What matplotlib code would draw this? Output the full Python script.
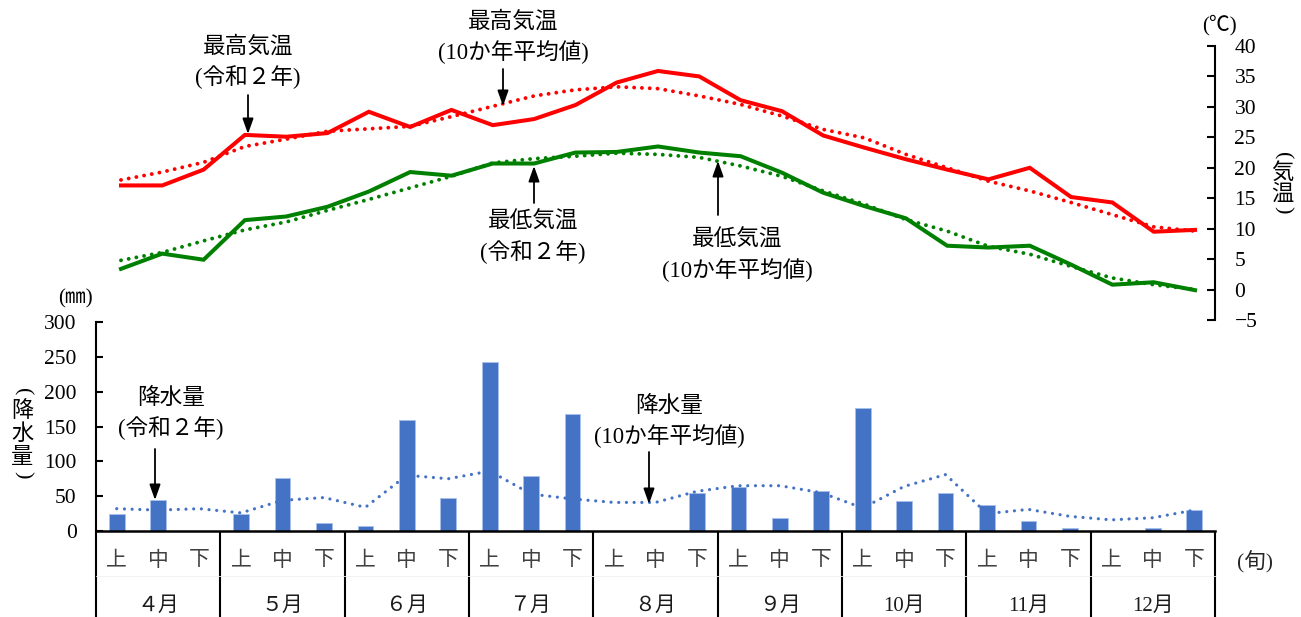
import matplotlib
matplotlib.use('Agg')
import matplotlib.pyplot as plt
import numpy as np

plt.rcParams['font.family'] = ['Liberation Serif', 'Noto Sans CJK JP']
plt.rcParams['axes.unicode_minus'] = True

# ---------------- data ----------------
months = ['４月', '５月', '６月', '７月', '８月', '９月', '10月', '11月', '12月']
dekads = ['上', '中', '下']

max_2020 = [17.1, 17.1, 19.7, 25.4, 25.1, 25.7, 29.2, 26.7, 29.5, 27.0, 28.0, 30.3, 34.0, 35.9,
            35.0, 31.1, 29.3, 25.3, 23.3, 21.4, 19.7, 18.1, 20.0, 15.2, 14.3, 9.5, 9.8]
max_avg = [18.0, 19.3, 20.9, 23.5, 24.7, 26.0, 26.4, 26.8, 28.4, 30.1, 31.8, 32.8, 33.3, 33.0,
           31.8, 30.4, 28.5, 26.3, 24.9, 22.2, 20.0, 17.8, 16.2, 14.3, 12.3, 10.3, 9.6]
min_2020 = [3.4, 5.9, 4.9, 11.4, 12.0, 13.6, 16.1, 19.3, 18.7, 20.7, 20.7, 22.5, 22.6, 23.5,
            22.5, 21.9, 19.2, 15.9, 13.7, 11.7, 7.2, 6.9, 7.2, 4.1, 0.8, 1.2, -0.1]
min_avg = [4.8, 6.1, 8.0, 9.8, 11.1, 13.0, 14.8, 16.7, 18.6, 20.8, 21.5, 21.9, 22.4, 22.2,
           21.7, 20.3, 18.6, 16.2, 14.0, 11.5, 9.6, 7.1, 5.8, 3.8, 1.9, 0.8, 0.0]
rain_2020 = [24, 44, 0, 24, 76, 12, 7, 160, 48, 243, 79, 168, 0, 0,
             54, 63, 18, 57, 176, 43, 54, 38, 15, 4, 0, 4, 30]
rain_avg = [32, 30, 32, 26, 44, 48, 34, 80, 75, 86, 53, 46, 41, 41,
            57, 65, 65, 55, 33, 64, 81, 25, 31, 21, 16, 19, 30]

temp_ticks = [-5, 0, 5, 10, 15, 20, 25, 30, 35, 40]
rain_ticks = [0, 50, 100, 150, 200, 250, 300]

# ---------------- layout helpers ----------------
W, H = 1301, 617
fig = plt.figure(figsize=(W / 100, H / 100), dpi=100)


def fx(x):
    return x / W


def fy(y):
    return 1 - y / H


L, R = 96, 1215
ax_t = fig.add_axes([fx(L), fy(320), fx(R) - fx(L), fy(46) - fy(320)])
ax_b = fig.add_axes([fx(L), fy(531), fx(R) - fx(L), fy(322) - fy(531)])
for a in (ax_t, ax_b):
    a.patch.set_alpha(0)

n = len(max_2020)
x = np.arange(n)

RED = '#FF0000'
GREEN = '#008000'
BLUE = '#4472C4'

# ---------------- top: temperature ----------------
ax_t.plot(x, max_avg, color=RED, lw=2.8, linestyle=(0, (0.01, 2.0)), dash_capstyle='round')
ax_t.plot(x, min_avg, color=GREEN, lw=2.8, linestyle=(0, (0.01, 2.0)), dash_capstyle='round')
ax_t.plot(x, max_2020, color=RED, lw=2.9, solid_joinstyle='miter')
ax_t.plot(x, min_2020, color=GREEN, lw=2.9, solid_joinstyle='miter')

ax_t.set_xlim(-0.605, 26.484)
ax_t.set_ylim(-5, 40)
for s in ('left', 'top', 'bottom'):
    ax_t.spines[s].set_visible(False)
ax_t.spines['right'].set_linewidth(1.5)
ax_t.set_xticks([])
ax_t.yaxis.tick_right()
ax_t.set_yticks(temp_ticks)
ax_t.tick_params(axis='y', direction='in', length=6, width=1.5, labelsize=15.5, pad=14)

# ---------------- bottom: precipitation ----------------
ax_b.bar(x, rain_2020, width=0.38, color=BLUE, edgecolor='#A9C1EA', linewidth=0.6, zorder=2)
ax_b.plot(x, rain_avg, color=BLUE, lw=2.3, linestyle=(0, (0.01, 2.4)), dash_capstyle='round', zorder=3)

ax_b.set_xlim(-0.5, n - 0.5)
ax_b.set_ylim(0, 300)
for s in ('right', 'top'):
    ax_b.spines[s].set_visible(False)
ax_b.spines['left'].set_linewidth(1.5)
ax_b.spines['bottom'].set_linewidth(1.8)
ax_b.set_xticks([])
ax_b.set_yticks(rain_ticks)
ax_b.tick_params(axis='y', direction='in', length=5, width=1.5, labelsize=15.5, pad=14)

# category table under the bars
tr = ax_b.get_xaxis_transform()
for m in range(len(months) + 1):
    ax_b.plot([m * 3 - 0.5, m * 3 - 0.5], [0, -0.45], transform=tr, color='black',
              lw=1.5, clip_on=False, solid_capstyle='butt')
ax_b.plot([-0.5, n - 0.5], [-0.215, -0.215], transform=tr, color='#F0F0F0', lw=0.6, clip_on=False)
for i in range(n):
    ax_b.text(i, -0.1435, dekads[i % 3], transform=tr, ha='center', va='center',
              fontsize=15, color='#404040')
for m, lab in enumerate(months):
    ax_b.text(m * 3 + 1, -0.36, lab, transform=tr, ha='center', va='center',
              fontsize=15, color='#1a1a1a')
ax_b.text(27.47, -0.1435, '(旬)', transform=tr, ha='center', va='center', fontsize=15.5,
          color='#262626')

# ---------------- axis titles ----------------
fig.text(fx(1219), fy(25), '(℃)', ha='center', va='center', fontsize=15)
fig.text(fx(75), fy(299), '(㎜)', ha='center', va='center', fontsize=15)


def vertical_label(cx, y0, pitch, chars):
    ys = [y0 + pitch * k for k in range(len(chars) + 2)]
    fig.text(fx(cx), fy(ys[0] + 5), '(', ha='center', va='center', fontsize=16,
             rotation=-90, family='Liberation Serif')
    for k, ch in enumerate(chars):
        fig.text(fx(cx), fy(ys[k + 1]), ch, ha='center', va='center', fontsize=16,
                 family='Noto Sans CJK JP')
    fig.text(fx(cx), fy(ys[-1] - 5), ')', ha='center', va='center', fontsize=16,
             rotation=-90, family='Liberation Serif')


vertical_label(1282, 150.5, 21.5, ['気', '温'])
vertical_label(22, 387, 23.3, ['降', '水', '量'])

# ---------------- annotations ----------------
FS = 16.3


def label(cx, y1, line1, line2):
    fig.text(fx(cx), fy(y1), line1, ha='center', va='center', fontsize=FS)
    fig.text(fx(cx), fy(y1 + 30), line2, ha='center', va='center', fontsize=FS)


def arrow(x0, y_tail, y_tip):
    fig.add_artist(matplotlib.patches.FancyArrowPatch(
        (fx(x0), fy(y_tail)), (fx(x0), fy(y_tip)), transform=fig.transFigure,
        arrowstyle='-|>,head_length=0.62,head_width=0.22', mutation_scale=15,
        color='black', lw=1.3, shrinkA=0, shrinkB=0))


label(248, 47, '最高気温', '(令和２年)')
arrow(248, 95, 134)
label(513, 22, '最高気温', '(10か年平均値)')
arrow(503, 69, 106)
label(533, 222, '最低気温', '(令和２年)')
arrow(534, 203, 166)
label(737, 240, '最低気温', '(10か年平均値)')
arrow(718, 215, 161)
label(171, 398, '降水量', '(令和２年)')
arrow(155, 449, 500)
label(669, 406, '降水量', '(10か年平均値)')
arrow(649, 452, 504)

fig.savefig('out.png', dpi=100)
